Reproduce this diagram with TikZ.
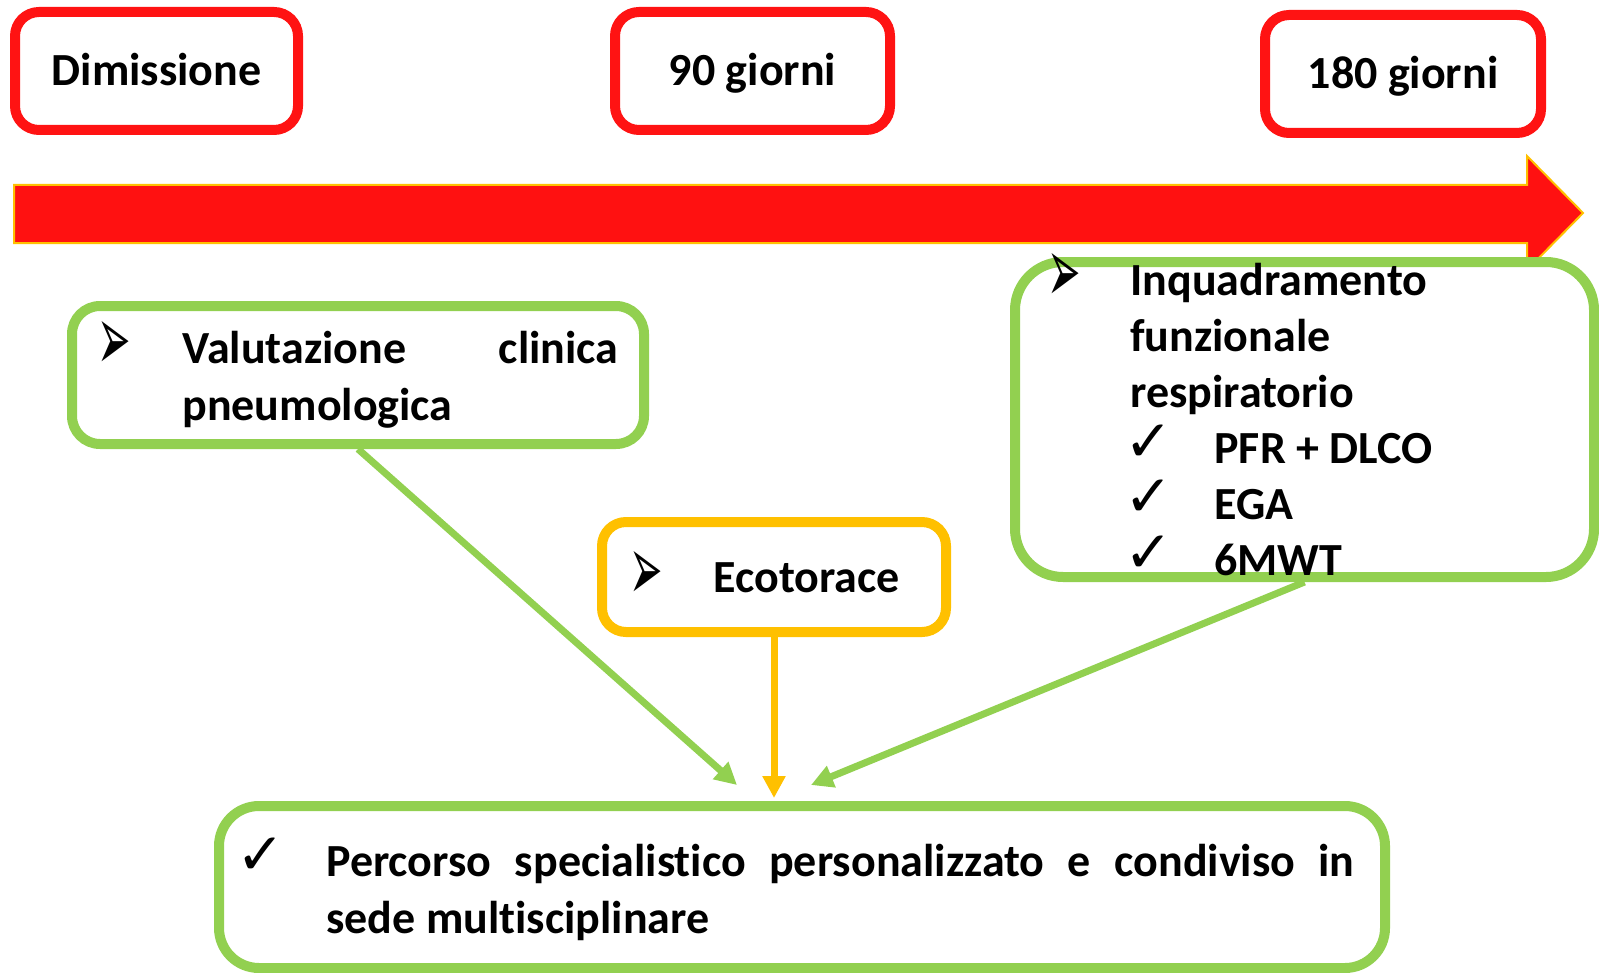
\documentclass[tikz,border=0pt]{standalone}
\usepackage{fontspec}
\setmainfont{Carlito}[Ligatures=NoCommon]
\newfontfamily\dejavu{DejaVu Sans}
\usetikzlibrary{arrows.meta}

\definecolor{boxred}{HTML}{FF1313}
\definecolor{arrowred}{HTML}{FF1111}
\definecolor{boxgreen}{HTML}{92D050}
\definecolor{boxorange}{HTML}{FFC000}

\newcommand{\arrbullet}{\scalebox{1}[2.3]{\dejavu\mdseries\fontsize{20pt}{20pt}\selectfont ➢}}
\newcommand{\chk}{{\dejavu\fontsize{29pt}{29pt}\selectfont ✓}}

\begin{document}
\begin{tikzpicture}[x=0.5pt, y=-0.5pt,
    every node/.style={font=\fontsize{23pt}{28pt}\selectfont\bfseries, inner sep=0pt},
    redbox/.style={draw=boxred, line width=5pt, rounded corners=12pt, fill=white,
      text height=14.8pt, text depth=0pt},
    greenbox/.style={draw=boxgreen, line width=5pt, fill=white},
    orangebox/.style={draw=boxorange, line width=5pt, rounded corners=12pt, fill=white},
    txt/.style={anchor=base west},
    greenarrow/.style={boxgreen, line width=3.5pt, -{Triangle[length=11pt,width=11pt]}},
    orangearrow/.style={boxorange, line width=3.5pt, -{Triangle[length=11pt,width=11pt]}}]
  \useasboundingbox (0,0) rectangle (1599,973);

  % time line
  \fill[arrowred, draw=boxorange, line width=1pt] (14,185) -- (1527,185) -- (1527,156)
    -- (1583,213) -- (1527,270) -- (1527,243) -- (14,243) -- cycle;

  \node (dim) [redbox, minimum width=141.5pt, minimum height=59pt] at (156.5,71) {Dimissione};
  \node (g90) [redbox, minimum width=137.5pt, minimum height=59pt] at (752.5,71) {90 giorni};
  \node (g180) [redbox, minimum width=138pt, minimum height=59pt] at (1403,74) {180 giorni};

  % boxes
  \node (val) [greenbox, rounded corners=14pt, minimum width=286pt, minimum height=69pt] at (358,375) {};
  \node (inq) [greenbox, rounded corners=24pt, minimum width=289.5pt, minimum height=157.5pt] at (1304.5,419.5) {};
  \node (eco) [orangebox, minimum width=172pt, minimum height=55pt] at (774,577) {};
  \node (fin) [greenbox, rounded corners=20pt, minimum width=583pt, minimum height=81pt] at (802,887) {};

  \node (valb) at (114,346) {\arrbullet};
  \node (val1) [txt] at (182,363) {\makebox[218pt][s]{Valutazione clinica}};
  \node (val2) [txt] at (182,420) {pneumologica};

  \node (inqb) at (1064,278) {\arrbullet};
  \node (inq1) [txt] at (1130,295) {Inquadramento};
  \node (inq2) [txt] at (1130,351) {funzionale};
  \node (inq3) [txt] at (1130,407) {respiratorio};
  \node (chk1) at (1149,443) {\chk};
  \node (chk2) at (1149,498) {\chk};
  \node (chk3) at (1149,554) {\chk};
  \node (pfr) [txt] at (1214,463) {PFR + DLCO};
  \node (ega) [txt] at (1214,519) {EGA};
  \node (mwt) [txt] at (1214,575) {6MWT};

  \node (ecob) at (646,576) {\arrbullet};
  \node (ecot) [txt] at (713,592) {Ecotorace};

  \node (finb) at (261,856) {\chk};
  \node (fin1) [txt] at (326,876) {\makebox[514pt][s]{Percorso specialistico personalizzato e condiviso in}};
  \node (fin2) [txt] at (326,933) {sede multisciplinare};

  % connectors
  \coordinate (tipl) at (737,785);
  \coordinate (tipo) at (774,798);
  \coordinate (tipr) at (811,785);
  \path[greenarrow] (val.south) edge (tipl);
  \path[orangearrow] (eco.south) edge (tipo);
  \path[greenarrow] (inq.south) edge (tipr);
\end{tikzpicture}
\end{document}
